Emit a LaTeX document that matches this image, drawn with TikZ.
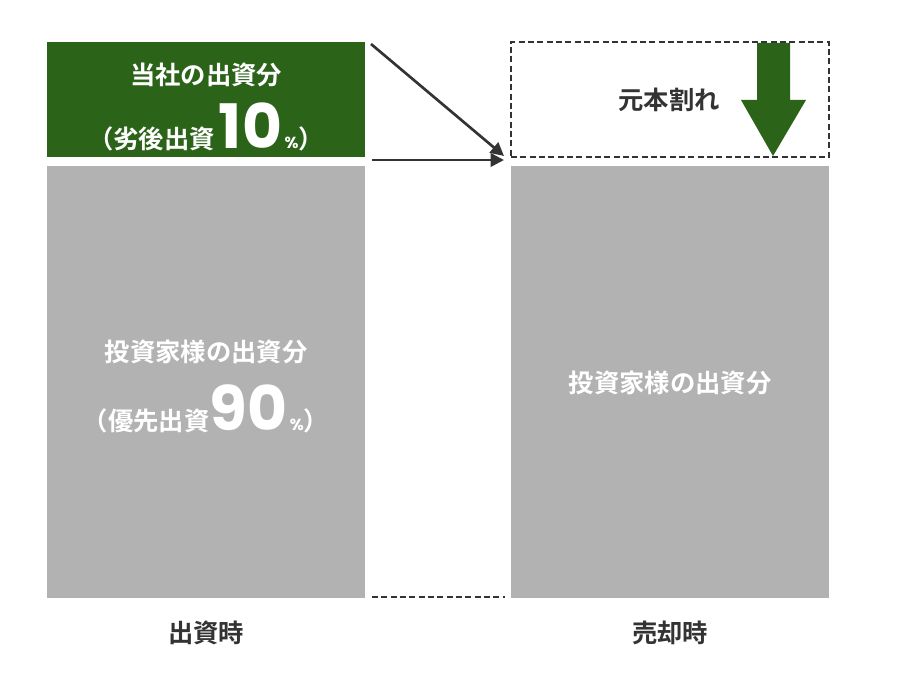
\documentclass[tikz,border=0pt]{standalone}
\usepackage{fontspec}
\setmainfont{Noto Sans CJK JP}[BoldFont={Noto Sans CJK JP Bold}]
\newfontfamily\numfont{Poppins}
\usetikzlibrary{arrows.meta,positioning}

\definecolor{leafgreen}{HTML}{2B6319}
\definecolor{boxgray}{HTML}{B2B2B2}
\definecolor{inkgray}{HTML}{333333}

\tikzset{
	share/.style={rectangle,minimum width=238.5pt,inner sep=0pt},
	owner/.style={share,fill=leafgreen,minimum height=86.25pt},
	investor/.style={share,fill=boxgray,minimum height=324pt},
	loss/.style={share,draw=inkgray,line width=1.8pt,dash pattern=on 4.5pt off 2.5pt,minimum height=86.25pt},
	inlabel/.style={text=white,font=\bfseries\fontsize{19}{21}\selectfont,inner sep=0pt},
	caption/.style={text=inkgray,font=\bfseries\fontsize{19}{21}\selectfont,inner sep=0pt},
	flow/.style={draw=inkgray,line width=2pt,-{Triangle[length=10pt,width=10pt]}}
}
\newcommand\bignum[1]{{\numfont\bfseries\fontsize{46}{46}\selectfont #1}}
\newcommand\pct{{\numfont\bfseries\fontsize{12}{12}\selectfont\,\%}}

\begin{document}
\begin{tikzpicture}[x=0.75pt,y=-0.75pt]
	\useasboundingbox (0,0) rectangle (910,680);
	
	\begin{scope}
		\node[owner] (own) at (206,99.5) {};
		\node[investor] (invL) at (206,382) {};
		\node[loss] (drop) at (670,99.5) {};
		\node[investor] (invR) at (670,382) {};
	\end{scope}
	
	% texts in the boxes
	\node[inlabel] (ownA) at (206,75) {当社の出資分};
	\node[inlabel] (ownB) at (206,127) {（劣後出資\,\bignum{10}\pct）};
	\node[inlabel] (invA) at (206,352) {投資家様の出資分};
	\node[inlabel] (invB) at (206,409) {（優先出資\bignum{90}\pct）};
	\node[inlabel,text=inkgray] (dropA) at (669,100) {元本割れ};
	\node[inlabel] (invC) at (670,383) {投資家様の出資分};
	
	% captions
	\node[caption] (capL) at (206,633) {出資時};
	\node[caption] (capR) at (670,633) {売却時};
	
	% connectors
	\coordinate (d0) at (371,44);
	\coordinate (d1) at (504,156);
	\coordinate (h0) at (372,160);
	\coordinate (h1) at (504,160);
	\coordinate (b0) at (372,597);
	\coordinate (b1) at (505,597);
	\path[flow] (d0) -- (d1);
	\path[flow] (h0) -- (h1);
	\draw[inkgray,line width=1.8pt,dash pattern=on 4.5pt off 2.5pt] (b0) -- (b1);
	
	% big down arrow
	\fill[leafgreen] (757,43) -- (790,43) -- (790,100) -- (806,100) -- (773,156)
		-- (741,100) -- (757,100) -- cycle;
\end{tikzpicture}
\end{document}
